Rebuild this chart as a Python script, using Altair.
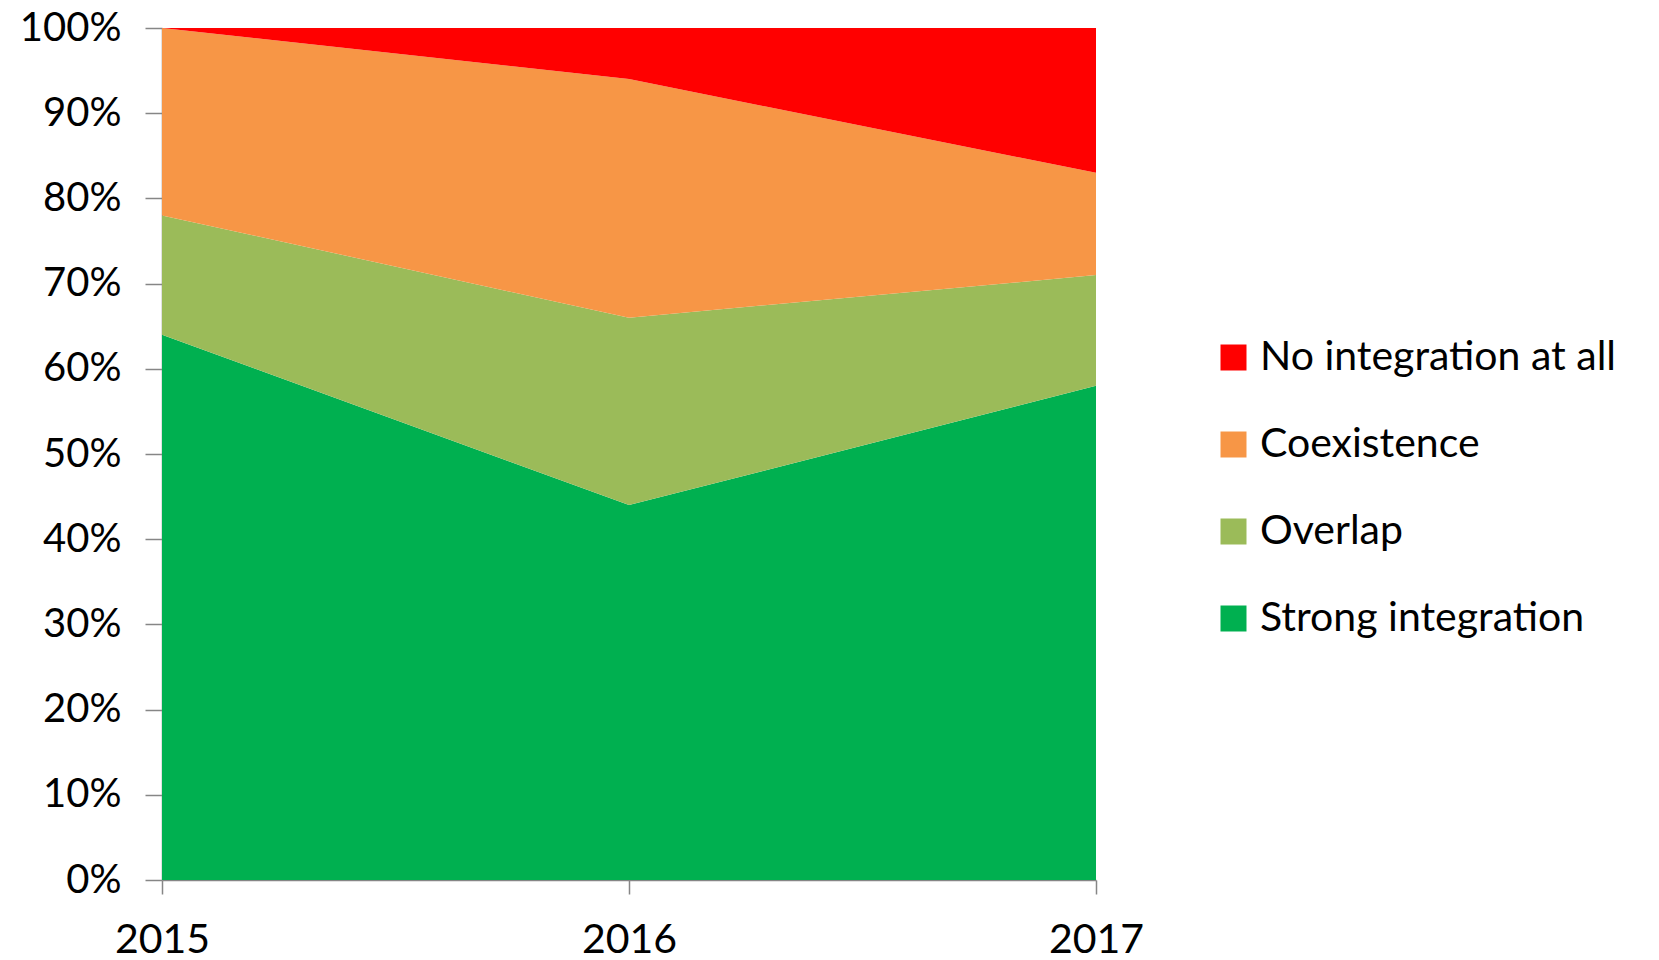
import altair as alt
import pandas as pd

years = ["2015", "2016", "2017"]
categories = ["No integration at all", "Coexistence", "Overlap", "Strong integration"]
strong = [64, 44, 58]
overlap = [14, 22, 13]
coexistence = [22, 28, 12]
no_integration = [0, 6, 17]
colors = ["#FF0000", "#F79646", "#9BBB59", "#00B050"]
y_ticks = [0, 10, 20, 30, 40, 50, 60, 70, 80, 90, 100]

series = {
    "Strong integration": strong,
    "Overlap": overlap,
    "Coexistence": coexistence,
    "No integration at all": no_integration,
}
stack_order = {"Strong integration": 0, "Overlap": 1, "Coexistence": 2, "No integration at all": 3}

rows = []
for cat, vals in series.items():
    for yr, v in zip(years, vals):
        rows.append({"year": yr, "category": cat, "value": v, "ord": stack_order[cat]})
df = pd.DataFrame(rows)

FONT = "Lato"
AX = "#868686"

chart = alt.Chart(df).mark_area(opacity=1).encode(
    x=alt.X("year:O", scale=alt.Scale(type="point", padding=0), sort=years,
            axis=alt.Axis(title=None, labelAngle=0, labelFontSize=41, labelFont=FONT,
                          labelColor="#000000", labelPadding=26, tickSize=14,
                          tickColor=AX, domainColor=AX, tickWidth=1.5, domainWidth=1.5,
                          grid=False)),
    y=alt.Y("value:Q", stack="zero", scale=alt.Scale(domain=[0, 100], nice=False),
            axis=alt.Axis(title=None, values=y_ticks, labelExpr="datum.value + '%'",
                          labelFontSize=40, labelFont=FONT, labelColor="#000000",
                          labelPadding=24, tickSize=17, tickColor=AX, domainColor=AX,
                          tickWidth=1.5, domainWidth=1.5, grid=False)),
    color=alt.Color("category:N", sort=categories,
                    scale=alt.Scale(domain=categories, range=colors),
                    legend=alt.Legend(title=None, orient="none", legendX=1051, legendY=309,
                                      symbolType="square", symbolSize=676, symbolStrokeWidth=0,
                                      labelFontSize=41, labelFont=FONT, labelColor="#000000",
                                      labelOffset=6, rowPadding=45, padding=0,
                                      labelLimit=600)),
    order=alt.Order("ord:Q", sort="ascending"),
).properties(
    width=934, height=852, padding={"left": 154, "top": 20, "right": 555, "bottom": 88},
    autosize=alt.AutoSizeParams(type="none"),
).configure_view(stroke=None)

chart.save("out.html", embed_options={"renderer": "svg", "actions": False})
